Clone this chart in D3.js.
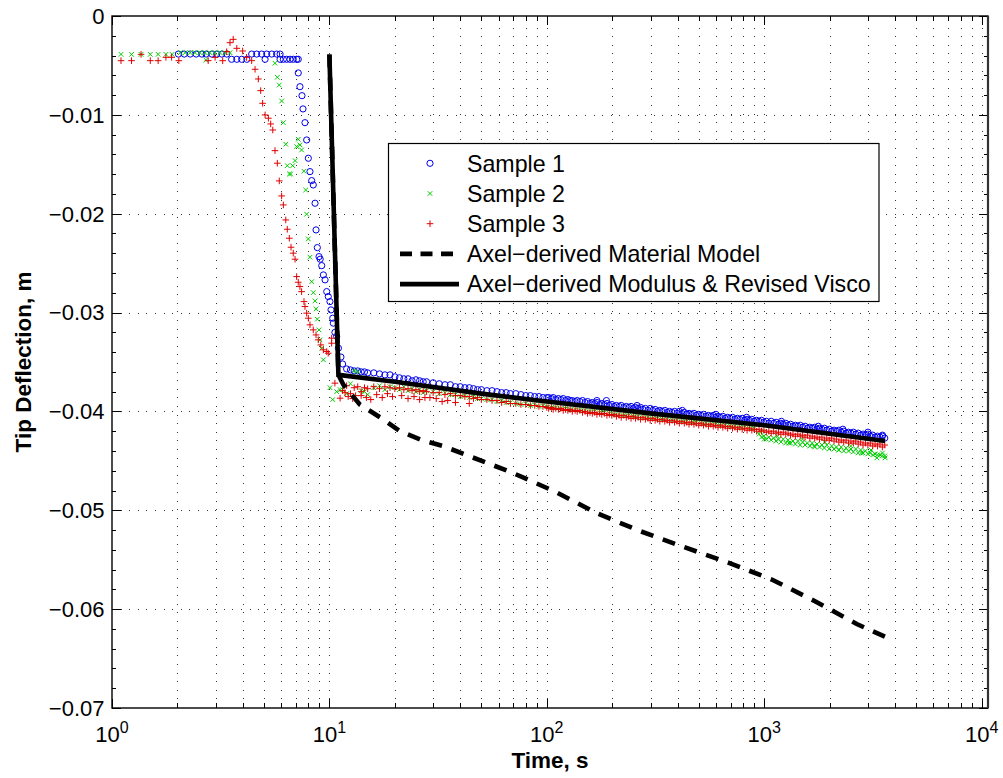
<!DOCTYPE html>
<html lang="en">
<head>
    <meta charset="utf-8">
    <title>Tip Deflection</title>
    <script src="https://d3js.org/d3.v7.min.js"></script>
    <style>
        body { margin: 0; background: #fff; }
        text { font-family: "Liberation Sans", Arial, Helvetica, sans-serif; }
    </style>
</head>
<body>
<svg id="chart"></svg>
<script>

    // ---- data (time in s, deflection in m) ----
    const xMax = 10700;   // right limit of the time axis

    // Sample 1 (blue circles): flat start and drop
    const s1Early = [
        [2.02,-0.00385],[2.15,-0.00385],[2.29,-0.00385],[2.44,-0.00385],[2.59,-0.00385],[2.71,-0.00385],
        [2.88,-0.00385],[3.03,-0.00385],[3.2,-0.00385],[3.37,-0.00385],[3.55,-0.00438],[3.75,-0.00438],
        [3.95,-0.00438],[4.17,-0.00438],[4.39,-0.00385],[4.63,-0.00385],[4.88,-0.00385],[5.06,-0.00438],
        [5.15,-0.00385],[5.43,-0.00385],[5.72,-0.00385],[5.93,-0.00385],[5.93,-0.00438],[6.14,-0.00438],
        [6.36,-0.00438],[6.59,-0.00438],[6.82,-0.00438],[7.07,-0.00438],[7.19,-0.00438],
        [7.19,-0.00576],[7.32,-0.00715],[7.48,-0.00806],[7.56,-0.0094],[7.72,-0.01079],[7.86,-0.01254],
        [8.0,-0.01439],[8.14,-0.01574],[8.29,-0.01665],[8.43,-0.01709],[8.59,-0.01894],[8.68,-0.02164],
        [8.8,-0.02343],[8.96,-0.02434],[9.07,-0.0246],[9.22,-0.02525],[9.38,-0.02619],[9.55,-0.02669],
        [9.72,-0.02788],[9.88,-0.02838],[10.06,-0.02889],[10.17,-0.02973],[10.36,-0.03057],[10.42,-0.03107],
        [10.6,-0.032],[10.8,-0.0324],[11.0,-0.0336],[11.3,-0.0345]
    ];
    // circles sitting above the creep band
    const s1Extra = [
        [170,-0.0389],[188,-0.0389],[260,-0.0394],[420,-0.0399],[600,-0.0403],[830,-0.0406],
        [1200,-0.0410],[1774,-0.0415],[2300,-0.0418],[3000,-0.0421],[3500,-0.0424]
    ];

    // Sample 2 (green x): flat start and drop
    const s2Early = [
        [1.1,-0.00388],[1.23,-0.00388],[1.36,-0.00388],[1.5,-0.00388],[1.63,-0.00388],[1.77,-0.00388],
        [1.89,-0.00388],[2.06,-0.00371],[2.17,-0.00371],[2.29,-0.00371],[2.41,-0.00371],[2.54,-0.00371],
        [2.68,-0.00371],[2.7,-0.00445],[2.82,-0.00371],[2.98,-0.00371],[3.14,-0.00371],[3.31,-0.00371],
        [3.49,-0.00371],[5.62,-0.00478],[5.76,-0.0062],[5.88,-0.00698],[6.03,-0.0086],[6.14,-0.01079],
        [6.3,-0.01297],[6.4,-0.01514],[6.55,-0.01598],[6.63,-0.01598],[6.78,-0.01514],[6.95,-0.01463],
        [7.07,-0.01321],[7.19,-0.01247],[7.32,-0.01304],[7.45,-0.01355],[7.64,-0.0157],[7.78,-0.0176],
        [7.86,-0.02005],[8.0,-0.02255],[8.14,-0.0244],[8.29,-0.02687],[8.43,-0.02798],[8.59,-0.02882],
        [8.68,-0.02963],[8.8,-0.03067],[8.96,-0.03175],[9.05,-0.03276],[9.22,-0.0336],[9.38,-0.03478],
        [10.06,-0.0376],[10.36,-0.0388],[10.8,-0.038],[11.2,-0.0378]
    ];
    // scattered green crosses in the late band
    const s2Extra = [
        [960,-0.0420],[1000,-0.0428],[1150,-0.0425],[1300,-0.0432],[1500,-0.0428],[1700,-0.0435],
        [1900,-0.0431],[2200,-0.0439],[2500,-0.0435],[2800,-0.0442],[3100,-0.0439],[3300,-0.0447],
        [3500,-0.0442],[3600,-0.0447]
    ];

    // Sample 3 (red +): flat start, bump and drop
    const s3Early = [
        [1.1,-0.00452],[1.23,-0.00452],[1.36,-0.00388],[1.5,-0.00452],[1.63,-0.00452],[1.77,-0.00418],
        [1.88,-0.00418],[2.03,-0.00452],[2.77,-0.00452],[2.98,-0.00418],[3.23,-0.00452],[3.37,-0.00361],
        [3.49,-0.0027],[3.61,-0.00236],[3.75,-0.00327],[3.99,-0.00354],[4.16,-0.00418],[4.39,-0.00452],
        [4.55,-0.00539],[4.71,-0.00637],[4.83,-0.00755],[4.93,-0.00883],[5.06,-0.01001],[5.24,-0.01034],
        [5.37,-0.01092],[5.49,-0.01153],[5.62,-0.01362],[5.76,-0.01489],[5.88,-0.01668],[6.03,-0.0182],
        [6.14,-0.01911],[6.3,-0.02063],[6.4,-0.02157],[6.54,-0.02248],[6.66,-0.02339],[6.82,-0.02399],
        [6.95,-0.0246],[7.07,-0.02636],[7.19,-0.02693],[7.32,-0.02737],[7.45,-0.02788],[7.64,-0.02889],
        [7.72,-0.02939],[7.86,-0.03006],[8.0,-0.03057],[8.14,-0.03124],[8.43,-0.03175],[8.68,-0.03226],
        [8.89,-0.03276],[9.13,-0.03327],[9.38,-0.03377],[9.72,-0.03394],[9.88,-0.03411],[10.24,-0.03259],
        [10.24,-0.0331],[10.6,-0.03714],[11.2,-0.03866]
    ];
    // lower edge of the red band just after loading
    const s3Extra = [
        [11.8,-0.0381],[12.2,-0.0385],[12.8,-0.0387],[13.2,-0.0384],[14,-0.0384],[14.8,-0.0386],
        [15.5,-0.0388],[16.5,-0.0383],[17.5,-0.0386],[18.5,-0.0382],[19.5,-0.0385],[21.5,-0.0384],
        [23,-0.0387],[24.5,-0.0385],[26,-0.0388],[27.5,-0.0386],[29,-0.0386],[31,-0.0387],[33,-0.0390],
        [35,-0.0389],[38,-0.0391],[44,-0.0392]
    ];

    // creep part, shared sample times
    const tailTimes = [
        11.5,12,12.5,13,13.5,14,14.5,15,16,17,18,19,20,21,22,23,24,25,26,27,28,30,32,34,36,38,40,
        42,44,46,48,50,53,56,59,62,65,68,72,76,80,84,88,92,96,100,105,110,116,122,128,135,142,150,158,166,
        175,184,194,204,215,226,238,250,263,277,292,307,323,340,358,377,397,418,440,463,
        487,513,540,568,598,629,662,697,734,772,813,855,900,947,997,1050,1105,1163,1224,1288,
        1356,1427,1502,1581,1664,1751,1843,1940,2042,2149,2262,2381,2506,2637,2776,2921,3075,3236,3406,3585
    ];
    const s1Tail = [
        -0.0352,-0.0357,-0.0358,-0.0359,-0.0359,-0.0360,-0.0360,-0.0361,-0.0361,-0.0362,-0.0363,-0.0363,-0.0365,
        -0.0366,-0.0367,-0.0367,-0.0369,-0.0368,-0.0369,-0.0370,-0.0370,-0.0371,-0.0372,-0.0373,-0.0373,-0.0375,-0.0375,
        -0.0376,-0.0376,-0.0377,-0.0378,-0.0378,-0.0379,-0.0379,-0.0380,-0.0381,-0.0381,-0.0382,-0.0382,-0.0383,-0.0384,
        -0.0384,-0.0385,-0.0385,-0.0386,-0.0386,-0.0387,-0.0388,-0.0388,-0.0389,-0.0389,-0.0390,-0.0390,-0.0391,-0.0392,
        -0.0392,-0.0393,-0.0393,-0.0394,-0.0395,-0.0395,-0.0396,-0.0396,-0.0397,-0.0397,-0.0398,-0.0399,-0.0399,-0.0400,
        -0.0400,-0.0401,-0.0401,-0.0402,-0.0402,-0.0403,-0.0403,-0.0404,-0.0404,-0.0405,-0.0405,-0.0406,-0.0406,-0.0407,
        -0.0407,-0.0408,-0.0408,-0.0409,-0.0409,-0.0410,-0.0410,-0.0411,-0.0412,-0.0412,-0.0413,-0.0413,-0.0414,-0.0415,
        -0.0415,-0.0416,-0.0417,-0.0417,-0.0418,-0.0418,-0.0419,-0.0420,-0.0420,-0.0421,-0.0422,-0.0422,-0.0423,-0.0424,
        -0.0424,-0.0425,-0.0426,-0.0426,-0.0427
    ];
    const s2Tail = [
        -0.0378,-0.0382,-0.0372,-0.0359,-0.0360,-0.0379,-0.0380,-0.0383,-0.0376,-0.0374,-0.0378,-0.0375,-0.0376,
        -0.0378,-0.0375,-0.0379,-0.0377,-0.0380,-0.0378,-0.0381,-0.0379,-0.0380,-0.0382,-0.0381,-0.0383,-0.0383,-0.0385,
        -0.0384,-0.0386,-0.0385,-0.0387,-0.0387,-0.0388,-0.0388,-0.0390,-0.0389,-0.0391,-0.0391,-0.0392,-0.0393,-0.0392,
        -0.0394,-0.0393,-0.0395,-0.0394,-0.0395,-0.0396,-0.0396,-0.0397,-0.0397,-0.0398,-0.0398,-0.0399,-0.0399,-0.0400,
        -0.0400,-0.0401,-0.0401,-0.0402,-0.0403,-0.0403,-0.0404,-0.0404,-0.0405,-0.0405,-0.0406,-0.0406,-0.0407,-0.0407,
        -0.0408,-0.0408,-0.0409,-0.0409,-0.0410,-0.0410,-0.0411,-0.0411,-0.0412,-0.0412,-0.0413,-0.0413,-0.0414,-0.0414,
        -0.0415,-0.0415,-0.0416,-0.0416,-0.0417,-0.0417,-0.0423,-0.0425,-0.0426,-0.0427,-0.0428,-0.0428,-0.0429,-0.0430,
        -0.0430,-0.0431,-0.0432,-0.0432,-0.0433,-0.0434,-0.0434,-0.0435,-0.0436,-0.0436,-0.0437,-0.0438,-0.0438,-0.0439,
        -0.0440,-0.0442,-0.0443,-0.0444,-0.0445
    ];
    const s3Tail = [
        -0.0379,-0.0374,-0.0382,-0.0376,-0.0375,-0.0380,-0.0376,-0.0377,-0.0375,-0.0377,-0.0375,-0.0376,-0.0377,
        -0.0376,-0.0378,-0.0377,-0.0379,-0.0378,-0.0380,-0.0379,-0.0380,-0.0381,-0.0381,-0.0383,-0.0382,-0.0384,-0.0384,
        -0.0385,-0.0385,-0.0387,-0.0386,-0.0388,-0.0388,-0.0389,-0.0389,-0.0391,-0.0390,-0.0392,-0.0392,-0.0393,-0.0393,
        -0.0394,-0.0394,-0.0395,-0.0395,-0.0396,-0.0396,-0.0397,-0.0397,-0.0398,-0.0398,-0.0399,-0.0399,-0.0400,-0.0401,
        -0.0401,-0.0402,-0.0402,-0.0403,-0.0403,-0.0404,-0.0404,-0.0405,-0.0405,-0.0406,-0.0406,-0.0407,-0.0407,-0.0408,
        -0.0408,-0.0409,-0.0409,-0.0410,-0.0410,-0.0411,-0.0411,-0.0412,-0.0412,-0.0413,-0.0413,-0.0414,-0.0414,-0.0415,
        -0.0415,-0.0416,-0.0416,-0.0417,-0.0417,-0.0418,-0.0418,-0.0419,-0.0420,-0.0420,-0.0421,-0.0421,-0.0422,-0.0423,
        -0.0423,-0.0424,-0.0424,-0.0425,-0.0426,-0.0426,-0.0427,-0.0427,-0.0428,-0.0429,-0.0429,-0.0430,-0.0430,-0.0431,
        -0.0432,-0.0432,-0.0433,-0.0433,-0.0434
    ];

    // second reading of the dense band (upper / lower edges), t >= 100 s
    const bandTimes = [
        102,107,113,119,125,131,138,146,154,162,170,179,189,199,209,220,232,244,256,270,
        284,299,315,331,349,367,387,407,429,451,475,500,526,554,583,613,645,679,715,753,
        792,834,877,923,972,1023,1077,1134,1193,1256,1322,1391,1464,1541,1622,1707,1797,1891,1991,2095,
        2205,2321,2443,2571,2706,2848,2998,3155,3321,3495
    ];
    const s1Band = [
        -0.0386,-0.0386,-0.0387,-0.0387,-0.0388,-0.0389,-0.0389,-0.0389,-0.0390,-0.0391,-0.0391,-0.0392,-0.0392,-0.0393,
        -0.0394,-0.0394,-0.0395,-0.0395,-0.0396,-0.0396,-0.0397,-0.0397,-0.0398,-0.0399,-0.0399,-0.0400,-0.0400,-0.0400,
        -0.0401,-0.0402,-0.0402,-0.0403,-0.0403,-0.0404,-0.0404,-0.0405,-0.0405,-0.0406,-0.0406,-0.0407,-0.0407,-0.0408,
        -0.0408,-0.0409,-0.0409,-0.0410,-0.0410,-0.0411,-0.0412,-0.0412,-0.0413,-0.0414,-0.0414,-0.0415,-0.0416,-0.0416,
        -0.0417,-0.0417,-0.0418,-0.0419,-0.0419,-0.0420,-0.0421,-0.0421,-0.0422,-0.0423,-0.0423,-0.0424,-0.0425,-0.0425
    ];
    const s3Band = [
        -0.0397,-0.0398,-0.0398,-0.0399,-0.0399,-0.0400,-0.0400,-0.0401,-0.0402,-0.0402,-0.0403,-0.0403,-0.0404,-0.0404,
        -0.0405,-0.0406,-0.0406,-0.0407,-0.0407,-0.0408,-0.0408,-0.0409,-0.0409,-0.0410,-0.0410,-0.0411,-0.0411,-0.0412,
        -0.0412,-0.0413,-0.0413,-0.0414,-0.0414,-0.0415,-0.0415,-0.0416,-0.0416,-0.0417,-0.0417,-0.0418,-0.0418,-0.0419,
        -0.0419,-0.0420,-0.0420,-0.0421,-0.0422,-0.0422,-0.0423,-0.0423,-0.0424,-0.0425,-0.0425,-0.0426,-0.0427,-0.0427,
        -0.0428,-0.0429,-0.0429,-0.0430,-0.0431,-0.0431,-0.0432,-0.0432,-0.0433,-0.0434,-0.0434,-0.0435,-0.0435,-0.0436
    ];
    // green lower edge from about 970 s on
    const s2Band = [
        -0.0426,-0.0428,-0.0429,-0.0430,-0.0431,-0.0432,-0.0432,-0.0433,-0.0434,-0.0434,-0.0435,-0.0436,-0.0436,
        -0.0437,-0.0438,-0.0438,-0.0439,-0.0440,-0.0440,-0.0441,-0.0442,-0.0442,-0.0443,-0.0444,-0.0444,-0.0445
    ];

    // model curves
    const materialModel = [
        [10,-0.0039],[11,-0.0363],[11.6,-0.0373],[13.8,-0.0393],[17.1,-0.0406],[21.1,-0.0420],[26.6,-0.0429],
        [33.3,-0.0435],[67.7,-0.0461],[109,-0.0481],[170,-0.0503],[268,-0.0521],[425,-0.0537],[684,-0.0553],
        [1083,-0.0570],[1713,-0.0592],[2665,-0.0615],[3600,-0.0628]
    ];
    const revisedModel = [
        [10,-0.0039],[11,-0.0363],[20,-0.0370],[50,-0.0382],[100,-0.0390],[300,-0.0402],[1000,-0.0414],[3600,-0.0430]
    ];

    const legendLabels = ["Sample 1", "Sample 2", "Sample 3",
        "Axel\u2212derived Material Model", "Axel\u2212derived Modulus & Revised Visco"];

    // ---- layout ----
    const width = 1003, height = 778;
    const plot = {left: 112, top: 16, right: 988, bottom: 708};

    let svg = d3.select("#chart")
            .attr("width", width)
            .attr("height", height);

    svg.append("rect").attr("width", width).attr("height", height).attr("fill", "#fff");

    let x = d3.scaleLog().domain([1, xMax]).range([plot.left, plot.right]);
    let y = d3.scaleLinear().domain([-0.07, 0]).range([plot.bottom, plot.top]);

    const isMajor = v => Math.abs(Math.log10(v) - Math.round(Math.log10(v))) < 1e-9;
    const xTicks = x.ticks().filter(v => v <= 1e4);
    const yTicks = d3.range(0, 8).map(i => -0.07 + i * 0.01);
    const yMinor = d3.range(0, 36).map(i => -0.07 + i * 0.002);

    // grid
    let grid = svg.append("g")
            .attr("stroke", "#333")
            .attr("stroke-width", 1)
            .attr("stroke-dasharray", "1,7.6")
            .attr("shape-rendering", "crispEdges");

    grid.selectAll(".vg")
            .data(xTicks.filter(v => v > 1))
            .enter().append("line")
            .attr("x1", d => Math.round(x(d)) + 0.5)
            .attr("x2", d => Math.round(x(d)) + 0.5)
            .attr("y1", plot.bottom)
            .attr("y2", plot.top);

    grid.selectAll(".hg")
            .data(yTicks.filter(v => v > -0.069 && v < -0.001))
            .enter().append("line")
            .attr("y1", d => Math.round(y(d)) + 0.5)
            .attr("y2", d => Math.round(y(d)) + 0.5)
            .attr("x1", plot.left)
            .attr("x2", plot.right);

    // samples
    const pair = (ts, ys) => ts.map((t, i) => [t, ys[i]]);
    const s1 = s1Early.concat(pair(tailTimes, s1Tail), pair(bandTimes, s1Band), s1Extra);
    const s2 = s2Early.concat(pair(tailTimes, s2Tail), pair(bandTimes.slice(44), s2Band), s2Extra);
    const s3 = s3Early.concat(pair(tailTimes, s3Tail), pair(bandTimes, s3Band), s3Extra);

    const blue = "#0000ee", green = "#00cc00", red = "#e00000";
    const xMark = "M-2.3,-2.3L2.3,2.3M-2.3,2.3L2.3,-2.3";
    const plusMark = "M-3.3,0H3.3M0,-3.3V3.3";

    svg.append("g")
            .selectAll("circle")
            .data(s1)
            .enter().append("circle")
            .attr("cx", d => x(d[0]))
            .attr("cy", d => y(d[1]))
            .attr("r", 3.1)
            .attr("fill", "none")
            .attr("stroke", blue)
            .attr("stroke-width", 1);

    svg.append("g")
            .selectAll("path")
            .data(s2)
            .enter().append("path")
            .attr("transform", d => `translate(${x(d[0])},${y(d[1])})`)
            .attr("d", xMark)
            .attr("stroke", green)
            .attr("stroke-width", 1);

    svg.append("g")
            .selectAll("path")
            .data(s3)
            .enter().append("path")
            .attr("transform", d => `translate(${x(d[0])},${y(d[1])})`)
            .attr("d", plusMark)
            .attr("stroke", red)
            .attr("stroke-width", 1);

    // model lines
    let line = d3.line().x(d => x(d[0])).y(d => y(d[1]));

    svg.append("path")
            .datum(materialModel)
            .attr("d", line)
            .attr("fill", "none")
            .attr("stroke", "#000")
            .attr("stroke-width", 4.6)
            .attr("stroke-dasharray", "13,10");

    svg.append("path")
            .datum(revisedModel)
            .attr("d", line)
            .attr("fill", "none")
            .attr("stroke", "#000")
            .attr("stroke-width", 4.6)
            .attr("stroke-linejoin", "miter");

    // frame and ticks
    let axes = svg.append("g").attr("stroke", "#000").attr("stroke-width", 1).attr("shape-rendering", "crispEdges");

    axes.selectAll(".xt")
            .data(xTicks)
            .enter().append("path")
            .attr("d", d => {
                let px = Math.round(x(d)) + 0.5, len = isMajor(d) ? 9 : 5;
                return `M${px},${plot.bottom}v${-len}M${px},${plot.top}v${len}`;
            });

    axes.selectAll(".yt")
            .data(yMinor)
            .enter().append("path")
            .attr("d", d => {
                let py = Math.round(y(d)) + 0.5;
                let len = Math.abs(d * 100 - Math.round(d * 100)) < 1e-6 ? 9 : 4;
                return `M${plot.left},${py}h${len}M${plot.right},${py}h${-len}`;
            });

    svg.append("rect")
            .attr("x", plot.left)
            .attr("y", plot.top)
            .attr("width", plot.right - plot.left)
            .attr("height", plot.bottom - plot.top)
            .attr("fill", "none")
            .attr("stroke", "#000")
            .attr("stroke-width", 1.4);

    svg.append("line")
            .attr("x1", plot.right).attr("x2", plot.right)
            .attr("y1", plot.top).attr("y2", plot.bottom)
            .attr("stroke", "#333").attr("stroke-width", 2.2);

    // tick labels
    const fmtY = v => Math.abs(v) < 1e-9 ? "0" : "\u2212" + Math.abs(v).toFixed(2);

    svg.append("g")
            .selectAll("text")
            .data(yTicks)
            .enter().append("text")
            .attr("x", 104.5)
            .attr("y", d => y(d))
            .attr("dy", "0.36em")
            .attr("text-anchor", "end")
            .attr("font-size", 22)
            .text(fmtY);

    svg.append("g")
            .selectAll("text")
            .data(xTicks.filter(isMajor))
            .enter().append("text")
            .attr("x", d => x(d))
            .attr("y", 742)
            .attr("text-anchor", "middle")
            .attr("font-size", 22)
            .each(function (d) {
                let t = d3.select(this);
                t.append("tspan").text("10");
                t.append("tspan").attr("dy", -9).attr("font-size", 16).text(Math.round(Math.log10(d)));
            });

    // axis titles
    svg.append("text")
            .attr("x", (plot.left + plot.right) / 2)
            .attr("y", 768)
            .attr("text-anchor", "middle")
            .attr("font-size", 22.5)
            .attr("font-weight", "bold")
            .text("Time, s");

    svg.append("text")
            .attr("transform", `translate(31,${(plot.top + plot.bottom) / 2}) rotate(-90)`)
            .attr("text-anchor", "middle")
            .attr("font-size", 22.5)
            .attr("font-weight", "bold")
            .text("Tip Deflection, m");

    // legend
    let legend = svg.append("g");
    legend.append("rect")
            .attr("x", 388.5).attr("y", 143.5)
            .attr("width", 490.5).attr("height", 158)
            .attr("fill", "#fff")
            .attr("stroke", "#000")
            .attr("stroke-width", 1.2);

    let rows = legend.selectAll(".row")
            .data(legendLabels)
            .enter().append("g")
            .attr("transform", (d, i) => `translate(0,${163.3 + i * 30.2})`);

    rows.append("text")
            .attr("x", 467)
            .attr("dy", "0.36em")
            .attr("font-size", 23.2)
            .text(d => d);

    rows.filter((d, i) => i === 0).append("circle")
            .attr("cx", 430).attr("r", 3.1)
            .attr("fill", "none").attr("stroke", blue);
    rows.filter((d, i) => i === 1).append("path")
            .attr("transform", "translate(430,0)").attr("d", xMark)
            .attr("stroke", green);
    rows.filter((d, i) => i === 2).append("path")
            .attr("transform", "translate(430,0)").attr("d", plusMark)
            .attr("stroke", red);
    rows.filter((d, i) => i === 3).append("line")
            .attr("x1", 400).attr("x2", 459)
            .attr("stroke", "#000").attr("stroke-width", 4.6)
            .attr("stroke-dasharray", "12,8.5");
    rows.filter((d, i) => i === 4).append("line")
            .attr("x1", 400).attr("x2", 459)
            .attr("stroke", "#000").attr("stroke-width", 4.6);

</script>
</body>
</html>
